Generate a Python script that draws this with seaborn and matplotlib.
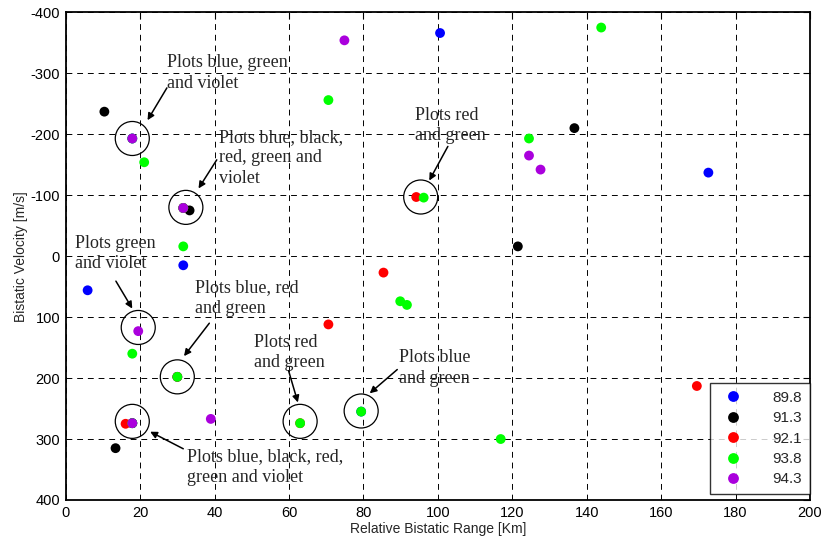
import numpy as np
import pandas as pd
import matplotlib
matplotlib.use("Agg")
import matplotlib.pyplot as plt
import seaborn as sns

# Detections per transmitter frequency (MHz): relative bistatic range [Km], bistatic velocity [m/s]
range_898 = [100.6, 172.7, 5.9, 31.6, 17.9, 31.6, 30.0, 17.9, 79.4]
vel_898 = [-366, -137, 56, 15, -193, -79, 198, 274, 255]

range_913 = [10.4, 136.7, 121.5, 33.3, 13.4, 17.9]
vel_913 = [-237, -210, -16, -75, 315, 274]

range_921 = [94.2, 85.4, 70.6, 169.6, 16.1, 31.6, 30.0, 63.0]
vel_921 = [-97, 27, 112, 213, 275, -79, 198, 274]

range_938 = [143.9, 70.6, 124.5, 21.1, 96.2, 31.6, 89.9, 91.7, 17.9, 30.0,
             63.0, 79.4, 116.9, 17.9, 31.6, 17.9]
vel_938 = [-375, -256, -193, -154, -96, -16, 74, 80, 160, 198,
           274, 255, 300, -193, -79, 274]

range_943 = [74.9, 124.5, 127.6, 17.9, 31.6, 19.5, 39.0, 17.9]
vel_943 = [-354, -165, -142, -193, -79, 123, 267, 274]

freq_labels = ["89.8", "91.3", "92.1", "93.8", "94.3"]
freq_colors = ["#0000FF", "#000000", "#FF0000", "#00FF00", "#AA00DD"]

# Groups of coincident detections that are ringed and annotated
ring_x = [17.9, 32.3, 95.4, 19.5, 30.0, 17.9, 63.0, 79.4]
ring_y = [-193, -80, -97, 117, 198, 271, 271, 254]

notes = [
    "Plots blue, green\nand violet",
    "Plots blue, black,\nred, green and\nviolet",
    "Plots red\nand green",
    "Plots green\nand violet",
    "Plots blue, red\nand green",
    "Plots red\nand green",
    "Plots blue\nand green",
    "Plots blue, black, red,\ngreen and violet",
]
note_x = [27.3, 41.3, 94.0, 2.5, 34.8, 50.5, 89.5, 32.6]
note_y = [-331, -209, -245, -35, 38, 127, 153, 315]
arrow_tail_x = [27.2, 40.6, 102.7, 13.5, 38.6, 59.9, 89.1, 31.6]
arrow_tail_y = [-276, -158, -180, 41, 110, 188, 186, 316]
arrow_head_x = [22.0, 35.7, 97.7, 17.9, 31.8, 62.4, 81.7, 22.7]
arrow_head_y = [-223, -111, -124, 86, 164, 240, 225, 288]

frames = []
for lab, xs, ys in zip(freq_labels,
                       [range_898, range_913, range_921, range_938, range_943],
                       [vel_898, vel_913, vel_921, vel_938, vel_943]):
    frames.append(pd.DataFrame({"range": xs, "velocity": ys, "freq": lab}))
df = pd.concat(frames, ignore_index=True)

sns.set_style("white")
plt.rcParams["font.family"] = ["Liberation Sans", "DejaVu Sans"]
plt.rcParams["axes.unicode_minus"] = False

fig = plt.figure(figsize=(8.26, 5.44), dpi=100)
ax = fig.add_axes([0.0795, 0.0809, 0.9011, 0.8965])

sns.scatterplot(data=df, x="range", y="velocity", hue="freq",
                hue_order=freq_labels, palette=freq_colors,
                s=50, linewidth=0, edgecolor="none", ax=ax, zorder=3)

ax.scatter(ring_x, ring_y, s=600, facecolors="none", edgecolors="black",
           linewidths=0.9, zorder=4)

for txt, tx, ty in zip(notes, note_x, note_y):
    ax.text(tx, ty, txt, ha="left", va="top", fontsize=13,
            family=["Liberation Serif", "DejaVu Serif"], linespacing=1.28,
            zorder=5)
for x0, y0, x1, y1 in zip(arrow_tail_x, arrow_tail_y, arrow_head_x, arrow_head_y):
    ax.annotate("", xy=(x1, y1), xytext=(x0, y0),
                arrowprops=dict(arrowstyle="-|>", color="black", lw=1.1,
                                mutation_scale=10, shrinkA=0, shrinkB=0),
                zorder=5)

ax.set_xlim(0, 200)
ax.set_ylim(400, -400)
ax.set_xticks(np.arange(0, 201, 20))
ax.set_yticks(np.arange(-400, 401, 100))
ax.grid(True, color="black", linestyle=(0, (6, 5)), linewidth=0.7)
ax.set_axisbelow(True)
for sp in ax.spines.values():
    sp.set_color("black")
    sp.set_linewidth(1.3)
ax.tick_params(direction="in", length=5, width=0.8, top=True, right=True,
               labelsize=10.5, colors="black", pad=4)

ax.set_xlabel("Relative Bistatic Range [Km]", fontsize=10, labelpad=2)
ax.set_ylabel("Bistatic Velocity [m/s]", fontsize=10, labelpad=2)

leg = ax.legend(loc="lower right", bbox_to_anchor=(1.0, 0.012),
                borderaxespad=0, frameon=True, fancybox=False, fontsize=11,
                markerscale=1.1, labelspacing=0.42, handletextpad=1.6,
                handlelength=2.0, borderpad=0.5)
leg.get_frame().set_edgecolor("black")
leg.get_frame().set_linewidth(1.0)

fig.savefig("out.png", dpi=100)
